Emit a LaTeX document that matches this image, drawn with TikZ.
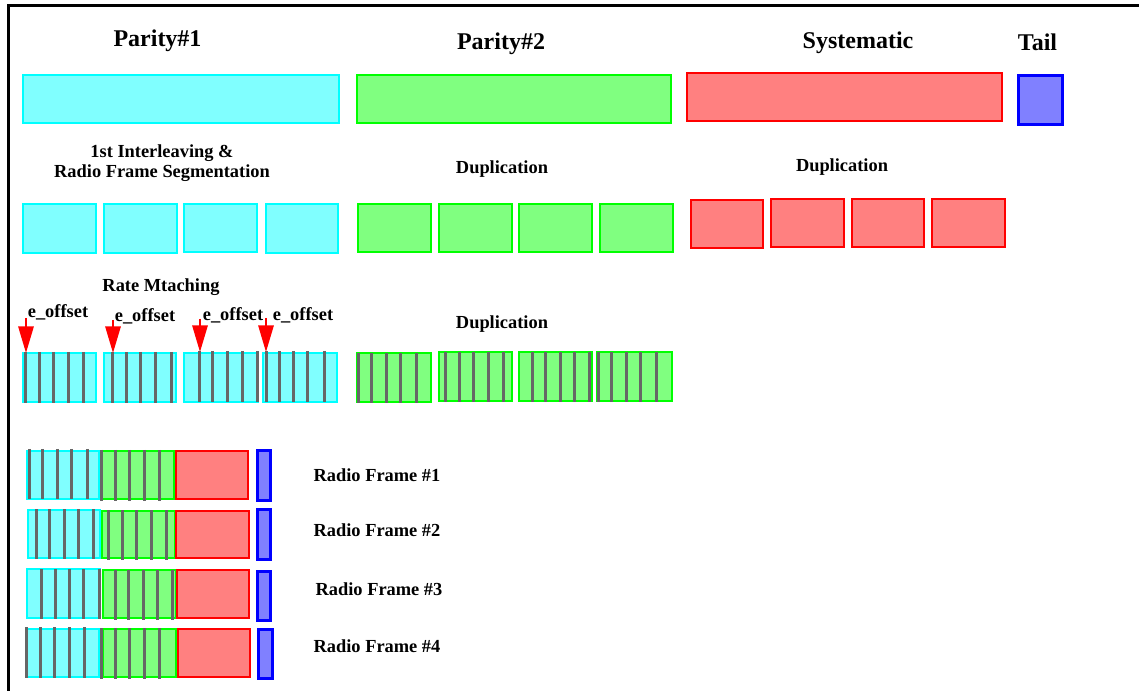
\documentclass[tikz,border=0pt]{standalone}
\usepackage{fontspec}
\setmainfont{Liberation Serif}
\usetikzlibrary{arrows.meta}

\definecolor{cyanline}{HTML}{00FFFF}
\definecolor{cyanfill}{HTML}{80FFFF}
\definecolor{greenline}{HTML}{00FF00}
\definecolor{greenfill}{HTML}{80FF80}
\definecolor{redline}{HTML}{FF0000}
\definecolor{redfill}{HTML}{FF8080}
\definecolor{blueline}{HTML}{0000FF}
\definecolor{bluefill}{HTML}{8080FF}
\definecolor{bargray}{HTML}{666666}

\tikzset{
  cybox/.style={draw=cyanline, fill=cyanfill, line width=1.5pt},
  grbox/.style={draw=greenline, fill=greenfill, line width=1.5pt},
  rdbox/.style={draw=redline, fill=redfill, line width=1.5pt},
  blbox/.style={draw=blueline, fill=bluefill, line width=2.25pt},
  bar/.style={draw=bargray, line width=2.25pt},
  frameline/.style={draw=black, line width=2.25pt},
  title/.style={font=\fontsize{18}{20}\selectfont\bfseries, inner sep=0pt, anchor=base},
  lbl/.style={font=\fontsize{13.8}{15}\selectfont\bfseries, inner sep=0pt, anchor=base},
  offarrow/.style={draw=red, line width=1.5pt, -{Triangle[length=20pt,width=11.5pt,fill=red]}},
}

% five vertical puncturing bars over one block
\newcommand\blockbars[3]{\foreach \bx in {#1} \draw[bar] (\bx,#2) -- (\bx,#3);}

\begin{document}
\begin{tikzpicture}[x=0.75pt,y=-0.75pt]
\useasboundingbox (0,0) rectangle (1139,691);

% frame
\draw[frameline] (8.5,691) -- (8.5,6) -- (1139,6);

% ---- headings ----
\node[title] (hp1) at (157.5,47) {Parity\#1};
\node[title] (hp2) at (501,50) {Parity\#2};
\node[title] (hsys) at (858,49) {Systematic};
\node[title] (htail) at (1037.5,51) {Tail};

% ---- coded blocks ----
\draw[cybox] (23,75) rectangle (339,123);
\draw[grbox] (357,75) rectangle (671,123);
\draw[rdbox] (687,73) rectangle (1002,121);
\draw[blbox] (1018,76) rectangle (1062,125);

% ---- interleaving / duplication ----
\node[lbl, align=center] (hseg) at (162,178) {1st Interleaving \&\\Radio Frame Segmentation};
\node[lbl] (hdup1) at (502,174) {Duplication};
\node[lbl] (hdup2) at (842,172) {Duplication};

\draw[cybox] (23,204) rectangle (96,253);
\draw[cybox] (104,204) rectangle (177,253);
\draw[cybox] (184,204) rectangle (257,252);
\draw[cybox] (266,204) rectangle (338,253);

\draw[grbox] (358,204) rectangle (431,252);
\draw[grbox] (439,204) rectangle (512,252);
\draw[grbox] (519,204) rectangle (592,252);
\draw[grbox] (600,204) rectangle (673,252);

\draw[rdbox] (691,200) rectangle (763,248);
\draw[rdbox] (771,199) rectangle (844,247);
\draw[rdbox] (852,199) rectangle (924,247);
\draw[rdbox] (932,199) rectangle (1005,247);

% ---- rate matching ----
\node[lbl] (hrm) at (161,292) {Rate Mtaching};
\node[lbl] (hdup3) at (502,329) {Duplication};

\node[lbl] (eo1) at (58,318) {e\_offset};
\node[lbl] (eo2) at (145,322) {e\_offset};
\node[lbl] (eo3) at (233,321) {e\_offset};
\node[lbl] (eo4) at (303,321) {e\_offset};

\draw[cybox] (23,353) rectangle (96,402);
\draw[cybox] (104,353) rectangle (176,402);
\draw[cybox] (184,353) rectangle (258,402);
\draw[cybox] (263,353) rectangle (337,402);
\blockbars{25,39,53,68,83}{352}{403}
\blockbars{112,126,140,155,171}{352}{403}
\blockbars{199,212,227,242,257}{351}{402}
\blockbars{266,279,293,307,324}{351}{402}

\draw[grbox] (357,353) rectangle (431,402);
\draw[grbox] (439,352) rectangle (512,401);
\draw[grbox] (519,352) rectangle (592,401);
\draw[grbox] (597,352) rectangle (672,401);
\blockbars{358,371,386,400,416}{353}{403}
\blockbars{445,459,473,488,503}{352}{402}
\blockbars{532,545,560,574,589}{352}{402}
\blockbars{598,611,626,640,656}{352}{402}

\coordinate (a1s) at (26,318);  \coordinate (a1e) at (26,353);
\coordinate (a2s) at (113,320); \coordinate (a2e) at (113,353);
\coordinate (a3s) at (200,319); \coordinate (a3e) at (200,352);
\coordinate (a4s) at (266,318); \coordinate (a4e) at (266,352);
\draw[offarrow] (a1s) -- (a1e);
\draw[offarrow] (a2s) -- (a2e);
\draw[offarrow] (a3s) -- (a3e);
\draw[offarrow] (a4s) -- (a4e);

% ---- radio frames ----
% frame 1
\draw[cybox] (27,451) rectangle (99,499);
\blockbars{29,42,57,71,87}{449}{499}
\draw[grbox] (101,451) rectangle (174,499);
\blockbars{101,115,129,144,159}{450}{501}
\draw[rdbox] (176,451) rectangle (248,499);
\draw[blbox] (257,451) rectangle (270,500);
\node[lbl] (rf1) at (377,482) {Radio Frame \#1};

% frame 2
\draw[cybox] (28,510) rectangle (100,558);
\blockbars{36,49,64,78,93}{509}{559}
\draw[grbox] (102,511) rectangle (175,558);
\blockbars{108,122,136,151,166}{510}{560}
\draw[rdbox] (176,511) rectangle (249,558);
\draw[blbox] (257,509) rectangle (270,559);
\node[lbl] (rf2) at (377,537) {Radio Frame \#2};

% frame 3
\draw[cybox] (27,569) rectangle (100,618);
\blockbars{41,55,69,83,99}{569}{619}
\draw[grbox] (103,570) rectangle (176,618);
\blockbars{115,128,143,157,172}{570}{620}
\draw[rdbox] (177,570) rectangle (249,618);
\draw[blbox] (257,571) rectangle (270,620);
\node[lbl] (rf3) at (379,595) {Radio Frame \#3};

% frame 4
\draw[cybox] (26,629) rectangle (99,677);
\blockbars{26,40,54,69,84}{627}{678}
\draw[grbox] (103,629) rectangle (176,677);
\blockbars{101,115,129,144,159}{628}{679}
\draw[rdbox] (178,629) rectangle (250,677);
\draw[blbox] (258,629) rectangle (272,678);
\node[lbl] (rf4) at (377,652) {Radio Frame \#4};

\end{tikzpicture}
\end{document}
